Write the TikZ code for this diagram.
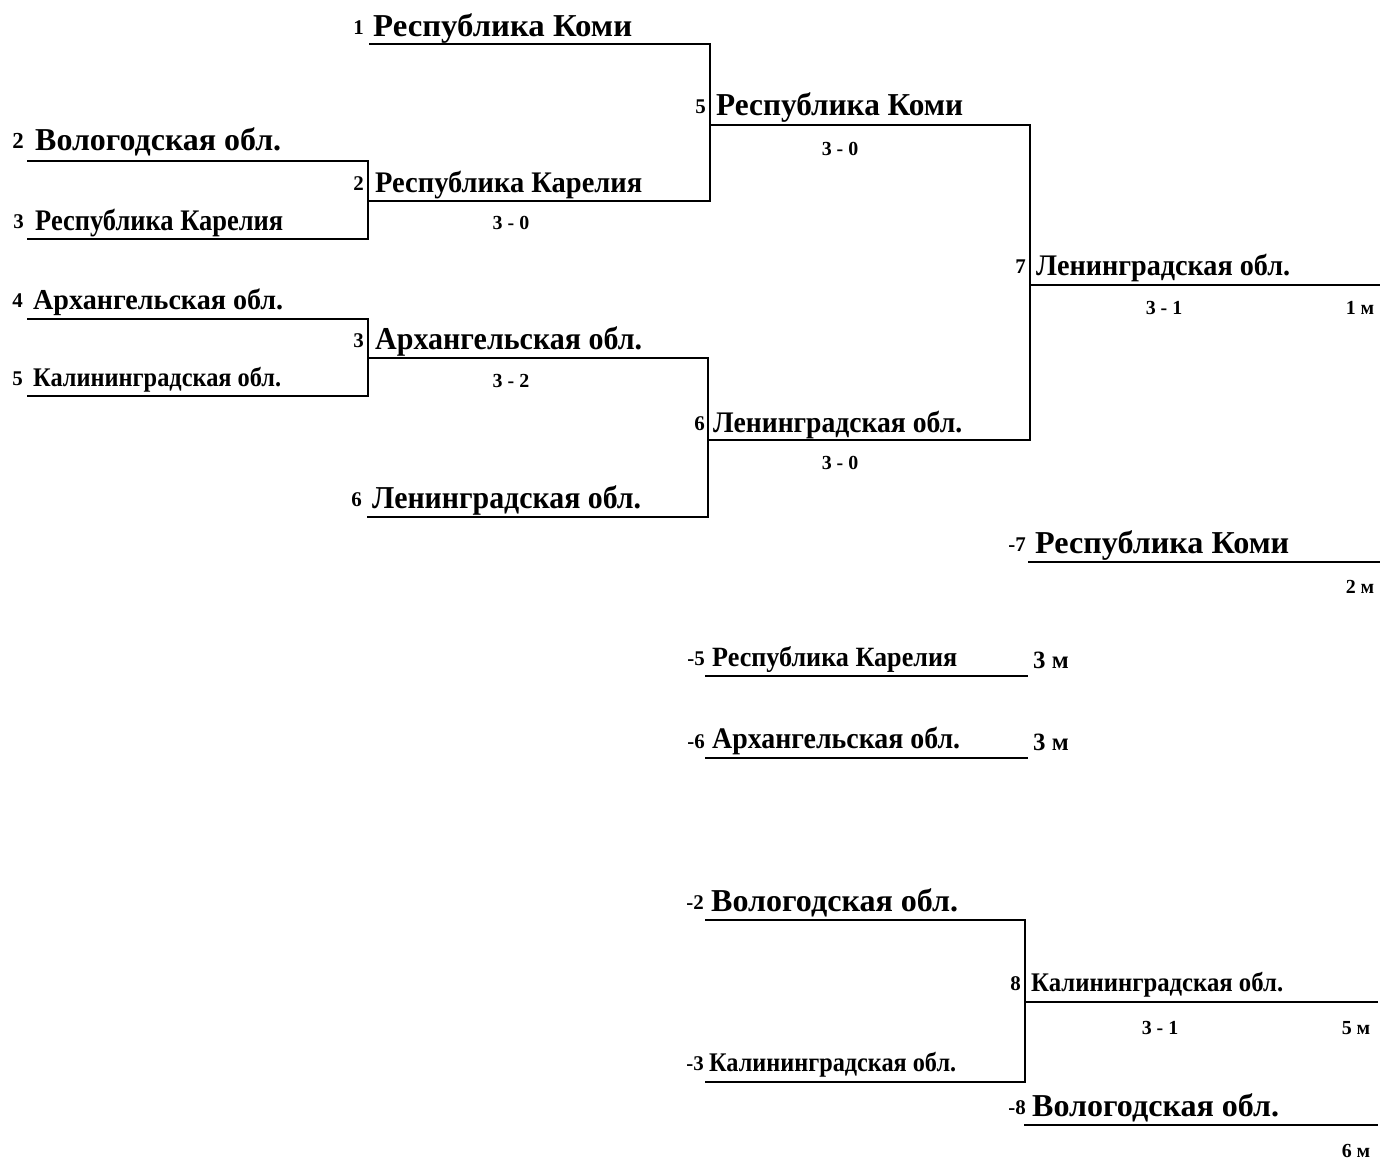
\documentclass[tikz,border=0pt]{standalone}
\usepackage{fontspec}
\setmainfont{Liberation Serif}
\usepackage{graphicx}
\newcommand\tw[3]{{\fontsize{#2}{#2}\selectfont\resizebox{#1bp}{\height}{#3}}}
\tikzset{
  team/.style={inner sep=0pt, anchor=base west, font=\bfseries},
  seed/.style={inner sep=0pt, anchor=base east, font=\bfseries\fontsize{21}{21}\selectfont},
  score/.style={inner sep=0pt, anchor=base, font=\bfseries\fontsize{20}{20}\selectfont},
  place/.style={inner sep=0pt, anchor=base, font=\bfseries\fontsize{20}{20}\selectfont},
  bigplace/.style={inner sep=0pt, anchor=base west, font=\bfseries\fontsize{25}{25}\selectfont},
  bline/.style={line width=2.6pt, line join=miter, line cap=rect}
}
\begin{document}
\begin{tikzpicture}[x=1bp,y=-1bp]
\useasboundingbox[fill=white] (0,0) rectangle (1380,1160);
% ---------- coordinates ----------
\coordinate (a2l) at (28,161);  \coordinate (a2r) at (368,161);
\coordinate (a3l) at (28,239);  \coordinate (a3r) at (368,239);
\coordinate (w2l) at (368,201); \coordinate (w2r) at (710,201);
\coordinate (a4l) at (28,319);  \coordinate (a4r) at (368,319);
\coordinate (a5l) at (28,396);  \coordinate (a5r) at (368,396);
\coordinate (w3l) at (368,358); \coordinate (w3r) at (708,358);
\coordinate (a1l) at (370,44);  \coordinate (a1r) at (710,44);
\coordinate (w5l) at (710,125); \coordinate (w5r) at (1030,125);
\coordinate (a6l) at (368,517); \coordinate (a6r) at (708,517);
\coordinate (w6l) at (708,440); \coordinate (w6r) at (1030,440);
\coordinate (w7l) at (1030,285); \coordinate (w7r) at (1380,285);
\coordinate (l7l) at (1029,562); \coordinate (l7r) at (1380,562);
\coordinate (l5l) at (706,676);  \coordinate (l5r) at (1027,676);
\coordinate (l6l) at (706,758);  \coordinate (l6r) at (1027,758);
\coordinate (l2l) at (706,920);  \coordinate (l2r) at (1025,920);
\coordinate (l3l) at (706,1082); \coordinate (l3r) at (1025,1082);
\coordinate (w8l) at (1025,1002); \coordinate (w8r) at (1377,1002);
\coordinate (l8l) at (1025,1125); \coordinate (l8r) at (1377,1125);
% ---------- lines ----------
\draw[bline] (a2l) -- (a2r) -- (a3r) -- (a3l);
\draw[bline] (w2l) -- (w2r);
\draw[bline] (a4l) -- (a4r) -- (a5r) -- (a5l);
\draw[bline] (w3l) -- (w3r);
\draw[bline] (a1l) -- (a1r) -- (w2r);
\draw[bline] (w5l) -- (w5r);
\draw[bline] (a6l) -- (a6r) -- (w3r);
\draw[bline] (w6l) -- (w6r);
\draw[bline] (w5r) -- (w6r);
\draw[bline] (w7l) -- (w7r);
\draw[bline] (l7l) -- (l7r);
\draw[bline] (l5l) -- (l5r);
\draw[bline] (l6l) -- (l6r);
\draw[bline] (l2l) -- (l2r) -- (l3r) -- (l3l);
\draw[bline] (w8l) -- (w8r);
\draw[bline] (l8l) -- (l8r);
% ---------- round 1 ----------
\node[seed] (s1) at (364,34) {1};
\node[team] (t1) at (373,36) {\tw{259}{32}{Республика Коми}};
\node[seed, font=\bfseries\fontsize{23}{23}\selectfont] (s2) at (24,148) {2};
\node[team] (t2) at (35,150) {\tw{246}{32}{Вологодская обл.}};
\node[seed] (s3) at (24,228) {3};
\node[team] (t3) at (35,230) {\tw{248}{30}{Республика Карелия}};
\node[seed] (s4) at (23,307) {4};
\node[team] (t4) at (33,309) {\tw{250}{29}{Архангельская обл.}};
\node[seed] (s5) at (23,385) {5};
\node[team] (t5) at (33,386) {\tw{248}{27}{Калининградская обл.}};
\node[seed] (s6) at (362,506) {6};
\node[team] (t6) at (372,508) {\tw{269}{32}{Ленинградская обл.}};
% ---------- winners ----------
\node[seed] (g2) at (364,190) {2};
\node[team] (u2) at (375,192) {\tw{267}{30}{Республика Карелия}};
\node[seed] (g3) at (364,347) {3};
\node[team] (u3) at (375,349) {\tw{267}{32}{Архангельская обл.}};
\node[seed] (g5) at (706,113) {5};
\node[team] (u5) at (716,115) {\tw{247}{32}{Республика Коми}};
\node[seed] (g6) at (705,430) {6};
\node[team] (u6) at (713,432) {\tw{249}{30}{Ленинградская обл.}};
\node[seed] (g7) at (1026,273) {7};
\node[team] (u7) at (1036,275) {\tw{254}{30}{Ленинградская обл.}};
% ---------- scores ----------
\node[score] (c2) at (511,229) {3 - 0};
\node[score] (c3) at (511,387) {3 - 2};
\node[score] (c5) at (840,155) {3 - 0};
\node[score] (c6) at (840,469) {3 - 0};
\node[score] (c7) at (1164,314) {3 - 1};
\node[place] (p1) at (1360,314) {1 м};
% ---------- places ----------
\node[seed] (g-7) at (1026,551) {-7};
\node[team] (u-7) at (1035,553) {\tw{254}{32}{Республика Коми}};
\node[place] (p2) at (1360,593) {2 м};
\node[seed] (g-5) at (705,665) {-5};
\node[team] (u-5) at (712,666) {\tw{245}{28}{Республика Карелия}};
\node[bigplace] (p3a) at (1033,668) {3 м};
\node[seed] (g-6) at (705,748) {-6};
\node[team] (u-6) at (712,748) {\tw{248}{30}{Архангельская обл.}};
\node[bigplace] (p3b) at (1033,750) {3 м};
\node[seed] (g-2) at (704,909) {-2};
\node[team] (u-2) at (711,911) {\tw{247}{32}{Вологодская обл.}};
\node[seed] (g-3) at (704,1070) {-3};
\node[team] (u-3) at (709,1071) {\tw{247}{27}{Калининградская обл.}};
\node[seed] (g8) at (1021,990) {8};
\node[team] (u8) at (1031,991) {\tw{252}{27}{Калининградская обл.}};
\node[score] (c8) at (1160,1034) {3 - 1};
\node[place] (p5) at (1356,1034) {5 м};
\node[seed] (g-8) at (1026,1114) {-8};
\node[team] (u-8) at (1032,1116) {\tw{247}{32}{Вологодская обл.}};
\node[place] (p6) at (1356,1157) {6 м};
\end{tikzpicture}
\end{document}
